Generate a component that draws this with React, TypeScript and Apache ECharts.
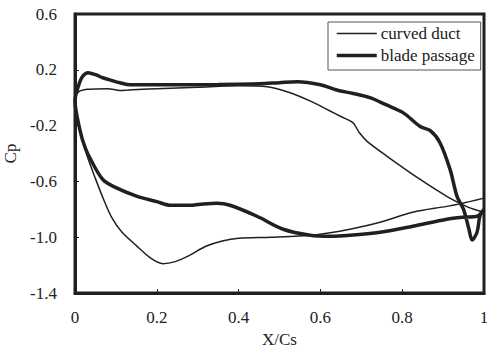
import React, { useEffect, useRef } from "react";
import * as echarts from "echarts";

const seriesNames = ["curved duct", "blade passage"];

// curved duct (thin) — upper branch, x from 0 to 1
const ductUpper: [number, number][] = [
  [0, -0.02], [0.008, 0.04], [0.03, 0.06], [0.08, 0.065], [0.11, 0.052], [0.13, 0.055],
  [0.2, 0.065], [0.3, 0.075], [0.4, 0.085], [0.47, 0.078], [0.526, 0.036], [0.58, -0.03],
  [0.62, -0.09], [0.65, -0.135], [0.68, -0.18], [0.695, -0.25], [0.715, -0.315], [0.763, -0.42],
  [0.844, -0.586], [0.909, -0.707], [0.95, -0.77], [0.975, -0.8], [1.0, -0.82],
];
// curved duct (thin) — lower branch, x from 0 to 1
const ductLower: [number, number][] = [
  [0, -0.02], [0.012, -0.23], [0.03, -0.42], [0.05, -0.58], [0.07, -0.73], [0.09, -0.86],
  [0.115, -0.965], [0.15, -1.06], [0.185, -1.15], [0.215, -1.19], [0.245, -1.175], [0.28, -1.13],
  [0.32, -1.065], [0.36, -1.027], [0.4, -1.007], [0.48, -1.0], [0.575, -0.986], [0.62, -0.97],
  [0.672, -0.943], [0.746, -0.893], [0.826, -0.821], [0.909, -0.779], [0.95, -0.755], [1.0, -0.72],
];
// blade passage (thick) — upper branch
const bladeUpper: [number, number][] = [
  [0, -0.02], [0.008, 0.08], [0.018, 0.15], [0.032, 0.179], [0.05, 0.165], [0.068, 0.143],
  [0.093, 0.121], [0.11, 0.107], [0.127, 0.095], [0.15, 0.093], [0.25, 0.093], [0.35, 0.095],
  [0.45, 0.1], [0.5, 0.108], [0.543, 0.114], [0.6, 0.093], [0.64, 0.055], [0.68, 0.03],
  [0.721, 0.0], [0.76, -0.05], [0.802, -0.107], [0.844, -0.207], [0.868, -0.235], [0.892, -0.321],
  [0.917, -0.514], [0.934, -0.707], [0.95, -0.8], [0.963, -0.94], [0.971, -1.02], [0.983, -0.964],
  [0.99, -0.85], [1.0, -0.8],
];
// blade passage (thick) — lower branch
const bladeLower: [number, number][] = [
  [0, -0.02], [0.012, -0.23], [0.025, -0.36], [0.042, -0.464], [0.068, -0.586], [0.1, -0.645],
  [0.152, -0.707], [0.2, -0.745], [0.232, -0.771], [0.281, -0.771], [0.306, -0.764], [0.347, -0.757],
  [0.379, -0.771], [0.445, -0.85], [0.509, -0.943], [0.575, -0.986], [0.623, -0.993], [0.672, -0.986],
  [0.746, -0.964], [0.826, -0.921], [0.909, -0.871], [0.949, -0.857], [0.983, -0.85], [1.0, -0.8],
];

const xTicks = { min: 0, max: 1, interval: 0.2 };
const yTicks = { min: -1.4, max: 0.6, interval: 0.4 };

const INK = "#231f20";
const FONT = "Liberation Serif";
const FS = 17;
const THIN = 1.5;
const THICK = 3.5;

export default function App() {
  const ref = useRef<HTMLDivElement>(null);
  useEffect(() => {
    if (!ref.current) return;
    const chart = echarts.init(ref.current, undefined, { renderer: "svg" });
    const loop = (upper: [number, number][], lower: [number, number][]) =>
      [...lower.slice().reverse(), ...upper.slice(1)];
    chart.setOption({
      animation: false,
      backgroundColor: "#ffffff",
      grid: {
        left: 75, right: 3, top: 14, bottom: 57,
        outerBoundsMode: "none",
        containLabel: false,
        show: true, borderColor: INK, borderWidth: 3, backgroundColor: "transparent",
      },
      legend: {
        show: true,
        orient: "vertical",
        left: 328,
        top: 22,
        data: [
          { name: seriesNames[0], lineStyle: { color: INK, width: THIN } },
          { name: seriesNames[1], lineStyle: { color: INK, width: THICK } },
        ],
        itemWidth: 40,
        itemHeight: 14,
        itemGap: 5,
        padding: [3, 6, 6, 7],
        borderColor: "#555",
        borderWidth: 1,
        align: "left",
        itemStyle: { opacity: 0, color: "transparent", borderWidth: 0 },
        textStyle: { fontFamily: FONT, fontSize: FS, color: "#222", padding: [0, 0, 0, -1] },
      },
      xAxis: {
        type: "value",
        min: xTicks.min, max: xTicks.max, interval: xTicks.interval,
        name: "X/Cs", nameLocation: "middle", nameGap: 34,
        nameTextStyle: { fontFamily: FONT, fontSize: FS, color: "#222" },
        axisLine: { show: true, onZero: false, lineStyle: { color: INK, width: 3 } },
        axisTick: { show: true, inside: true, length: 4, lineStyle: { color: INK, width: 1 } },
        splitLine: { show: false },
        axisLabel: {
          fontFamily: FONT, fontSize: FS, color: "#222", margin: 16,
          formatter: (v: number) => (v === 0 ? "0" : v === 1 ? "1" : v.toFixed(1)),
        },
      },
      yAxis: {
        type: "value",
        min: yTicks.min, max: yTicks.max, interval: yTicks.interval,
        name: "Cp", nameLocation: "middle", nameGap: 52, nameRotate: 90,
        nameTextStyle: { fontFamily: FONT, fontSize: FS, color: "#222" },
        axisLine: { show: true, onZero: false, lineStyle: { color: INK, width: 3 } },
        axisTick: { show: true, inside: true, length: 4, lineStyle: { color: INK, width: 1 } },
        splitLine: { show: false },
        axisLabel: {
          fontFamily: FONT, fontSize: FS, color: "#222", margin: 18,
          formatter: (v: number) => v.toFixed(1),
        },
      },
      series: [
        {
          name: seriesNames[0], type: "line", symbol: "none", smooth: 0.3,
          data: loop(ductUpper, ductLower),
          lineStyle: { color: INK, width: THIN }, itemStyle: { color: INK },
        },
        {
          name: seriesNames[1], type: "line", symbol: "none", smooth: 0.3,
          data: loop(bladeUpper, bladeLower),
          lineStyle: { color: INK, width: THICK }, itemStyle: { color: INK },
        },
      ],
    });
    return () => chart.dispose();
  }, []);
  return (
    <div
      ref={ref}
      style={{ position: "absolute", left: 0, top: 0, width: 487, height: 350 }}
    />
  );
}
